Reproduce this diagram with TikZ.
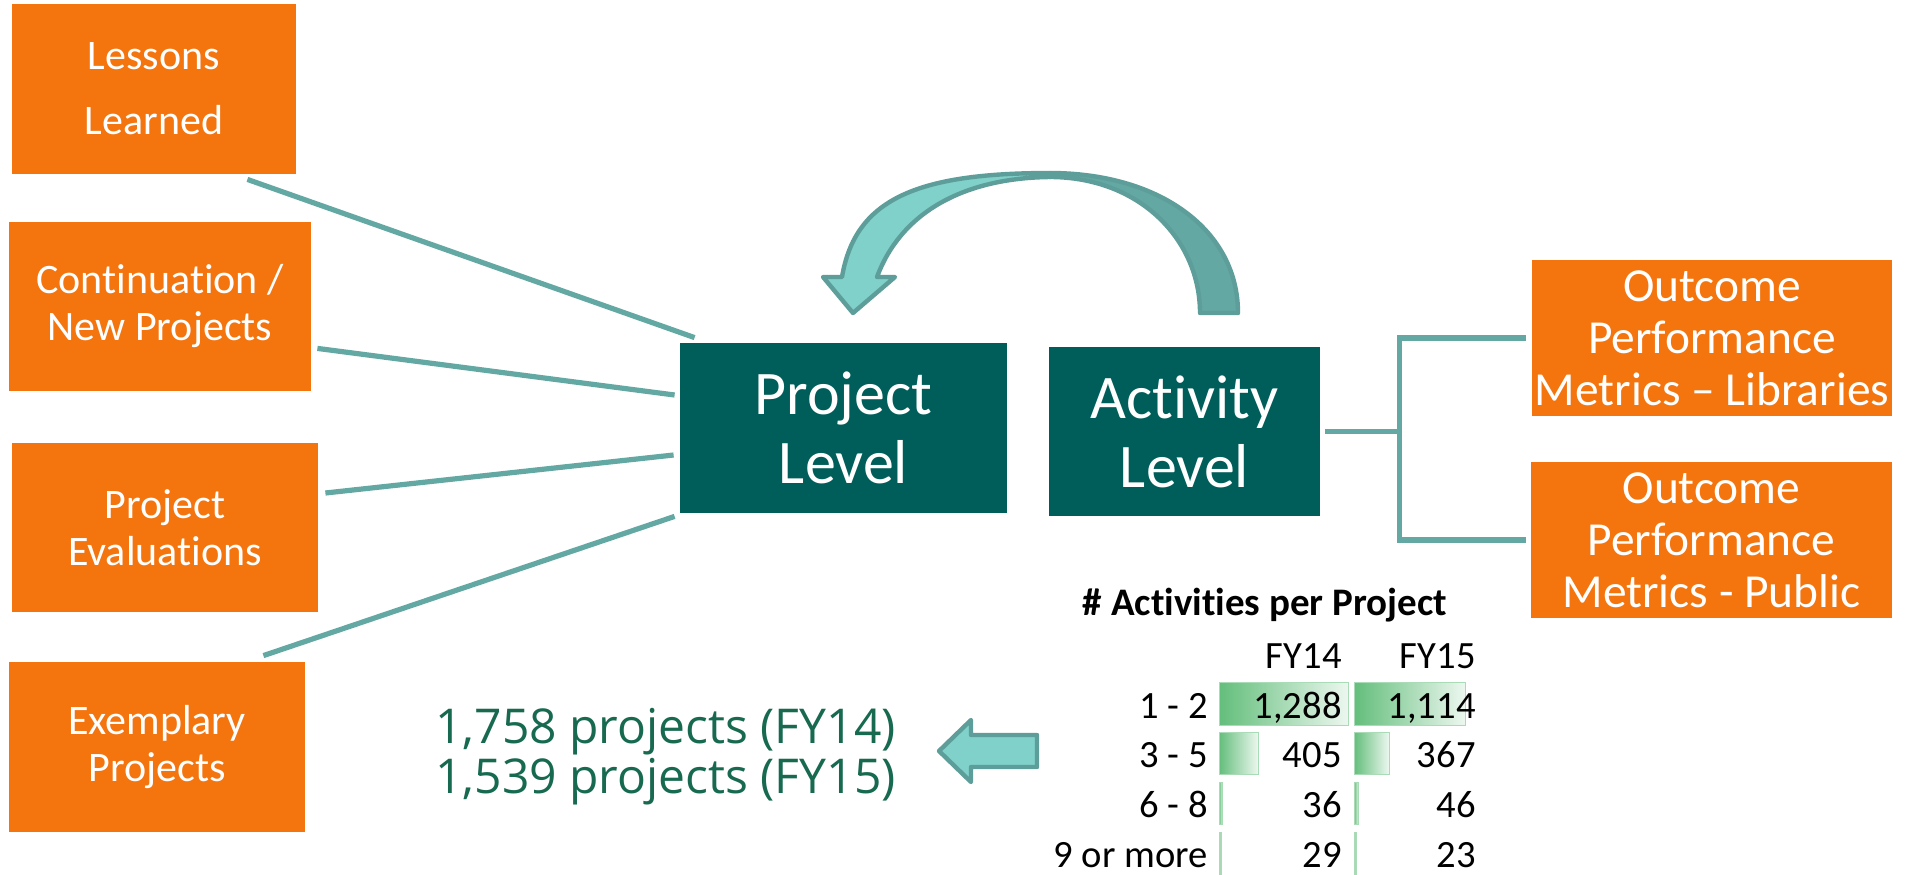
\documentclass[tikz,border=0pt]{standalone}
\usepackage{fontspec}
\setmainfont{Carlito}[Ligatures={NoCommon,NoRare,NoContextual},Contextuals=NoAlternate]
\newfontfamily\osans{Open Sans}
\newcommand{\nolig}{\kern0pt}
\definecolor{orng}{RGB}{244,116,14}
\definecolor{tealbx}{RGB}{0,94,90}
\definecolor{lnk}{RGB}{99,168,163}
\definecolor{arrlight}{RGB}{127,209,201}
\definecolor{arrdark}{RGB}{99,168,163}
\definecolor{arredge}{RGB}{94,158,154}
\definecolor{txtgreen}{RGB}{23,105,80}
\definecolor{bargreen}{RGB}{99,190,123}
\begin{document}
\begin{tikzpicture}[x=0.5pt,y=-0.5pt,
  obox/.style={fill=orng, text=white, inner sep=0pt, align=center, font=\fontsize{21}{23.5}\selectfont},
  tbox/.style={fill=tealbx, text=white, inner sep=0pt, align=center, font=\fontsize{31}{34.5}\selectfont},
  mbox/.style={fill=orng, text=white, inner sep=0pt, align=center, font=\fontsize{23.7}{26}\selectfont},
  link/.style={draw=lnk, line width=2.6pt},
  tbl/.style={inner sep=0pt, font=\fontsize{19.3}{20}\selectfont},
  bar/.style={left color=bargreen, right color=bargreen!12, draw=bargreen!55, line width=0.5pt},
  blockarrow/.style={draw=arredge, line width=2.2pt, line join=round}]
\useasboundingbox (0,0) rectangle (1913,874);

% left boxes
\node[obox, minimum width=142pt, minimum height=85pt, font=\fontsize{21}{32.5}\selectfont] (lessons) at (154,89) {Lessons\\Learned};
\node[obox, minimum width=151pt, minimum height=84.5pt] (cont) at (160,306.5) {Cont\nolig inuat\nolig ion /\\New Projects};
\node[obox, minimum width=153pt, minimum height=84.5pt] (eval) at (165,527.5) {Project\\Evaluat\nolig ions};
\node[obox, minimum width=148pt, minimum height=85pt] (exem) at (157,747) {Exemplary\\Projects};

% central boxes
\node[tbox, minimum width=163.5pt, minimum height=85pt] (proj) at (843.5,428) {Project\\Level};
\node[tbox, minimum width=135.5pt, minimum height=84.5pt] (act) at (1184.5,431.5) {Act\nolig ivity\\Level};

% right boxes
\node[mbox, minimum width=180pt, minimum height=78pt] (lib) at (1712,338) {Outcome\\Performance\\Metrics -- Libraries};
\node[mbox, minimum width=180.5pt, minimum height=78pt] (pub) at (1711.5,540) {Outcome\\Performance\\Metrics - Public};

% connectors
\draw[link] ([shift={(-49,5)}]lessons.south east) -- ([shift={(15,-5)}]proj.north west);
\draw[link] ([shift={(6,-43)}]cont.south east) -- ([shift={(-5,-33)}]proj.west);
\draw[link] ([shift={(7,-34.5)}]eval.east) -- ([shift={(-6,27)}]proj.west);
\draw[link] ([shift={(-42,-6)}]exem.north east) -- ([shift={(-5,3)}]proj.south west);

\draw[link] ([shift={(5,0)}]act.east) -- ([shift={(80,0)}]act.east);
\draw[link] ([shift={(-6,0)}]lib.west) -| ([shift={(-131,0)}]pub.west) -- ([shift={(-5,0)}]pub.west);

% curved arrow
\filldraw[blockarrow, fill=arrdark]
  (1050,173) .. controls (1160,173) and (1238,230) .. (1238,313)
  -- (1200,313) .. controls (1200,240) and (1140,177) .. (1050,177) -- cycle;
\filldraw[blockarrow, fill=arrlight]
  (1050,173) .. controls (915,173) and (855,200) .. (842,277)
  -- (823,277) -- (853,313) -- (895,277) -- (877,277)
  .. controls (900,215) and (960,178) .. (1050,177) -- cycle;

% straight arrow
\filldraw[blockarrow, fill=arrlight]
  (1037,735) -- (971,735) -- (971,720) -- (939,751) -- (971,782) -- (971,767) -- (1037,767) -- cycle;

% counts
\node[anchor=base west, inner sep=0pt, text=txtgreen, font=\osans\fontsize{24}{25}\selectfont] (c14) at (435,743) {1,758 projects (FY14)};
\node[anchor=base west, inner sep=0pt, text=txtgreen, font=\osans\fontsize{24}{25}\selectfont] (c15) at (435,793) {1,539 projects (FY15)};

% table
\node[tbl, anchor=base, font=\bfseries\fontsize{19.5}{20}\selectfont] (ttl) at (1265,615) {\# Act\nolig ivit\nolig ies per Project};
\node[tbl, anchor=base east] (h14) at (1342,668) {FY14};
\node[tbl, anchor=base east] (h15) at (1476,668) {FY15};

\shadedraw[bar] (1219,682) rectangle (1348,725);
\shadedraw[bar] (1219,732) rectangle (1258,774);
\shadedraw[bar] (1219,782) rectangle (1222.5,824);
\shadedraw[bar] (1219,832) rectangle (1221,874);
\shadedraw[bar] (1354,682) rectangle (1465,725);
\shadedraw[bar] (1354,732) rectangle (1389,774);
\shadedraw[bar] (1354,782) rectangle (1358.5,824);
\shadedraw[bar] (1354,832) rectangle (1356,874);

\node[tbl, anchor=base east] (r1) at (1208,718) {1 - 2};
\node[tbl, anchor=base east] (r2) at (1208,767) {3 - 5};
\node[tbl, anchor=base east] (r3) at (1208,817) {6 - 8};
\node[tbl, anchor=base east] (r4) at (1208,867) {9 or more};

\node[tbl, anchor=base east] (a1) at (1342,718) {1,288};
\node[tbl, anchor=base east] (a2) at (1342,767) {405};
\node[tbl, anchor=base east] (a3) at (1342,817) {36};
\node[tbl, anchor=base east] (a4) at (1342,867) {29};
\node[tbl, anchor=base east] (b1) at (1476,718) {1,114};
\node[tbl, anchor=base east] (b2) at (1476,767) {367};
\node[tbl, anchor=base east] (b3) at (1476,817) {46};
\node[tbl, anchor=base east] (b4) at (1476,867) {23};
\end{tikzpicture}
\end{document}
